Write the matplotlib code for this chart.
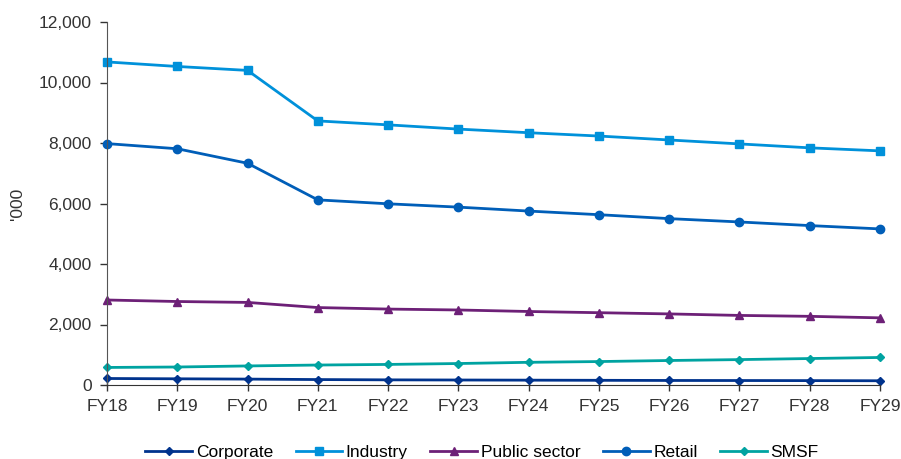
import matplotlib
matplotlib.use("Agg")
import matplotlib.pyplot as plt
from matplotlib.ticker import FuncFormatter

years = ["FY18", "FY19", "FY20", "FY21", "FY22", "FY23",
         "FY24", "FY25", "FY26", "FY27", "FY28", "FY29"]

corporate = [215, 205, 195, 180, 170, 165, 160, 155, 150, 148, 145, 140]
industry = [10680, 10530, 10400, 8730, 8600, 8460, 8340, 8230, 8100, 7970, 7840, 7740]
public_sector = [2810, 2760, 2730, 2560, 2510, 2480, 2430, 2390, 2350, 2300, 2270, 2220]
retail = [7980, 7810, 7330, 6120, 5990, 5880, 5750, 5630, 5500, 5390, 5270, 5160]
smsf = [580, 595, 630, 660, 680, 710, 750, 775, 810, 840, 875, 910]

series = [
    ("Corporate", corporate, "#00338D", "D", 4),
    ("Industry", industry, "#0091DA", "s", 6),
    ("Public sector", public_sector, "#6D2077", "^", 6),
    ("Retail", retail, "#005EB8", "o", 6),
    ("SMSF", smsf, "#00A3A1", "D", 4),
]

plt.rcParams["font.family"] = ["Liberation Sans", "DejaVu Sans"]

fig = plt.figure(figsize=(9.01, 4.59), dpi=100)
ax = fig.add_axes([107 / 901, 74 / 459, 773 / 901, 363 / 459])

x = list(range(len(years)))
for name, vals, color, marker, ms in series:
    ax.plot(x, vals, color=color, marker=marker, markersize=ms,
            linewidth=2, label=name, clip_on=False)

ax.set_xlim(0, len(years) - 1)
ax.set_ylim(0, 12000)
ax.set_yticks(range(0, 12001, 2000))
ax.yaxis.set_major_formatter(FuncFormatter(lambda v, p: f"{int(v):,}"))
ax.set_xticks(x)
ax.set_xticklabels(years)

for side in ["top", "right"]:
    ax.spines[side].set_visible(False)
ax.spines["left"].set_color("#555555")
ax.spines["bottom"].set_color("#333333")
ax.tick_params(axis="both", labelsize=12.5, colors="#333333", length=5,
               width=1, pad=6)
ax.tick_params(axis="x", direction="inout", length=8)
ax.set_ylabel("'000", fontsize=12.5, color="#333333", labelpad=10)

fig.legend(loc="center", bbox_to_anchor=(0.535, 0.015), ncol=5, frameon=False,
           fontsize=12.5, handlelength=2.7, columnspacing=1.3,
           handletextpad=0.2)

fig.savefig("out.png", dpi=100)
